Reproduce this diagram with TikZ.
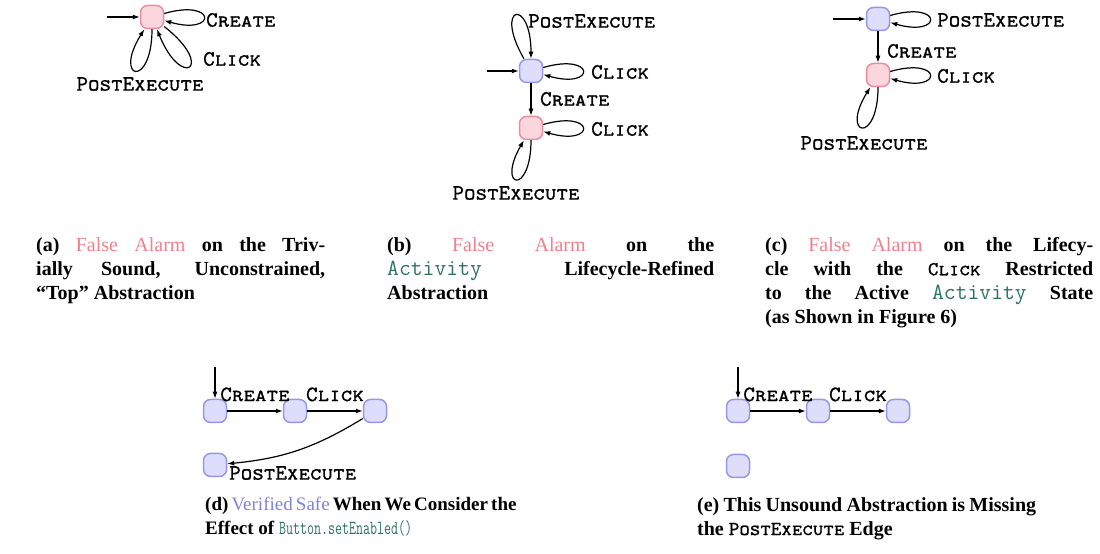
\documentclass[tikz,border=0pt]{standalone}
\usepackage{fontspec}
\usepackage{graphicx}
\setmainfont{Liberation Serif}
\newfontfamily\capsfont{lmmonocaps10-regular.otf}[FakeBold=0.8]
\usetikzlibrary{arrows.meta}

\definecolor{alarmc}{RGB}{240,128,140}
\definecolor{safec}{RGB}{128,128,226}
\definecolor{codegreen}{RGB}{45,115,90}
\definecolor{pinkfill}{RGB}{251,214,222}
\definecolor{pinkdraw}{RGB}{236,140,158}
\definecolor{bluefill}{RGB}{222,222,252}
\definecolor{bluedraw}{RGB}{150,150,236}

\newcommand\evsize{\fontsize{22}{22}\selectfont}
\newcommand\ev[1]{{\mdseries\capsfont #1}}
\newcommand\code[2][23]{{\mdseries\ttfamily\fontsize{#1}{#1}\selectfont\color{codegreen}#2}}
\newcommand\narrowcode[1]{\scalebox{0.68}[1]{\code[20]{#1}}}
\newcommand\alarm[1]{\textcolor{alarmc}{\mdseries #1}}
\newcommand\safe[1]{\textcolor{safec}{\mdseries #1}}
\newcommand\jline[2]{\makebox[#1][s]{#2}\\}

\tikzset{
  stpink/.style={draw=pinkdraw, fill=pinkfill, rounded corners=7pt,
    minimum size=23pt, inner sep=0pt, line width=1.5pt},
  stblue/.style={draw=bluedraw, fill=bluefill, rounded corners=7pt,
    minimum size=23pt, inner sep=0pt, line width=1.5pt},
  arr/.style={-{Latex[length=7pt,width=5pt]}, line width=1.2pt},
  lbl/.style={font=\evsize\capsfont, inner sep=0pt},
  captext/.style={anchor=north west, inner sep=0pt, align=left,
    font=\fontsize{20}{24}\selectfont\bfseries},
}

\begin{document}
\begin{tikzpicture}[x=1pt,y=1pt]
\useasboundingbox (0,0) rectangle (1100,554);

% (a) single state, every event loops back
\node[stpink] (a0) at (152,537) {};
\coordinate (ai) at (107,537);
\draw[arr] (ai) -- (a0);
\draw[arr] (a0) to[out=16,in=-16,distance=55pt] (a0);
\draw[arr] (a0) to[out=-38,in=-68,distance=66pt] (a0);
\draw[arr] (a0) to[out=-90,in=-122,distance=60pt] (a0);
\node[lbl, anchor=west] (aCreate) at (206,534) {Create};
\node[lbl, anchor=west] (aClick) at (203,495) {Click};
\node[lbl] (aPost) at (140,470) {PostExecute};

% (b) lifecycle-refined abstraction
\node[stblue] (b1) at (531,483) {};
\node[stpink] (b2) at (531,426) {};
\coordinate (bi) at (487,483);
\draw[arr] (bi) -- (b1);
\draw[arr] (b1) to[out=120,in=90,distance=62pt] (b1);
\draw[arr] (b1) to[out=16,in=-16,distance=55pt] (b1);
\draw[arr] (b1) -- (b2);
\draw[arr] (b2) to[out=16,in=-16,distance=55pt] (b2);
\draw[arr] (b2) to[out=-90,in=-120,distance=56pt] (b2);
\node[lbl, anchor=west] (bPostTop) at (528,533) {PostExecute};
\node[lbl, anchor=west] (bClick1) at (591,482) {Click};
\node[lbl, anchor=west] (bCreate) at (540,455) {Create};
\node[lbl, anchor=west] (bClick2) at (591,425) {Click};
\node[lbl] (bPostBot) at (516,361) {PostExecute};

% (c) click restricted to the active state
\node[stblue] (c1) at (878,535) {};
\node[stpink] (c2) at (878,479) {};
\coordinate (ci) at (833,535);
\draw[arr] (ci) -- (c1);
\draw[arr] (c1) to[out=16,in=-16,distance=55pt] (c1);
\draw[arr] (c1) -- (c2);
\draw[arr] (c2) to[out=16,in=-16,distance=55pt] (c2);
\draw[arr] (c2) to[out=-90,in=-122,distance=58pt] (c2);
\node[lbl, anchor=west] (cPost) at (937,534) {PostExecute};
\node[lbl, anchor=west] (cCreate) at (887,503) {Create};
\node[lbl, anchor=west] (cClick) at (937,478) {Click};
\node[lbl] (cPostBot) at (864,411) {PostExecute};

% (d) with the effect of setEnabled
\node[stblue] (d1) at (215,143) {};
\node[stblue] (d2) at (295,143) {};
\node[stblue] (d3) at (375,143) {};
\node[stblue] (d4) at (215,89) {};
\coordinate (di) at (215,187);
\draw[arr] (di) -- (d1);
\draw[arr] (d1) -- node[lbl, above=9pt] (dCreate) {Create} (d2);
\draw[arr] (d2) -- node[lbl, above=9pt] (dClick) {Click} (d3);
\draw[arr] (d3) to[bend left=13] (d4);
\node[lbl, anchor=west] (dPost) at (229,81) {PostExecute};

% (e) missing the PostExecute edge
\node[stblue] (e1) at (738,143) {};
\node[stblue] (e2) at (818,143) {};
\node[stblue] (e3) at (898,143) {};
\node[stblue] (e4) at (738,88) {};
\coordinate (ei) at (738,187);
\draw[arr] (ei) -- (e1);
\draw[arr] (e1) -- node[lbl, above=9pt] (eCreate) {Create} (e2);
\draw[arr] (e2) -- node[lbl, above=9pt] (eClick) {Click} (e3);

% captions
\node[captext] (capA) at (36,317) {%
  \jline{289pt}{(a) \alarm{False Alarm} on the Triv-}%
  \jline{289pt}{ially Sound, Unconstrained,}%
  “Top” Abstraction};
\node[captext] (capB) at (387,317) {%
  \jline{327pt}{(b) \alarm{False Alarm} on the}%
  \jline{327pt}{\code{Activity} Lifecycle-Refined}%
  Abstraction};
\node[captext] (capC) at (765,317) {%
  \jline{328pt}{(c) \alarm{False Alarm} on the Lifecy-}%
  \jline{328pt}{cle with the \ev{Click} Restricted}%
  \jline{328pt}{to the Active \code{Activity} State}%
  (as Shown in Figure 6)};
\node[captext, font=\fontsize{19}{24}\selectfont\bfseries] (capD) at (205,57) {%
  \jline{308pt}{(d) \safe{Verified Safe} When We Consider the}%
  Effect of \narrowcode{Button.setEnabled()}};
\node[captext] (capE) at (697,57) {%
  \jline{339pt}{(e) This Unsound Abstraction is Missing}%
  the \ev{PostExecute} Edge};
\end{tikzpicture}
\end{document}
